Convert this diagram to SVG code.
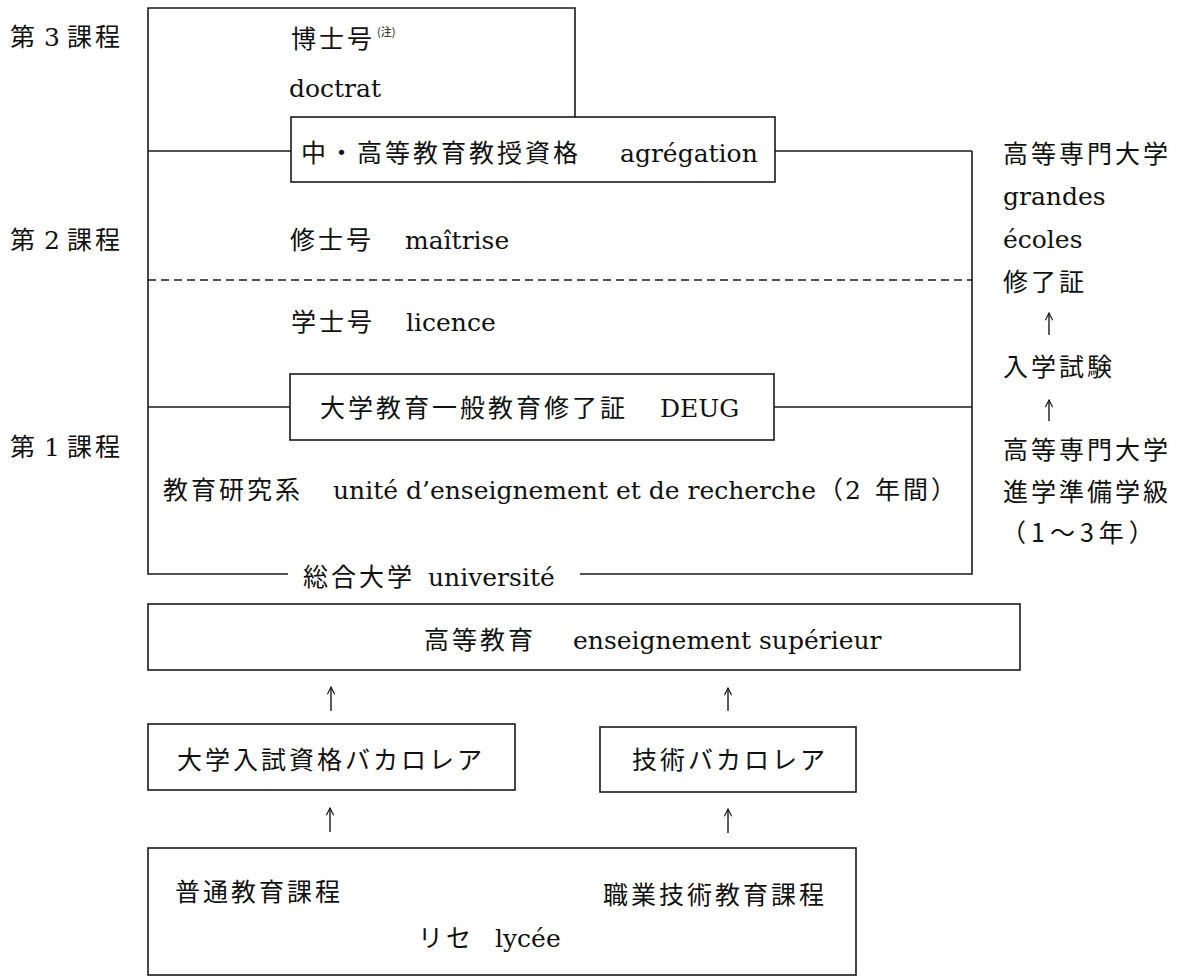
<svg xmlns="http://www.w3.org/2000/svg" width="1184" height="977" viewBox="0 0 1184 977">
<style>
.j{font-family:"Noto Sans CJK JP","Noto Sans CJK SC",sans-serif;font-size:25px;letter-spacing:3px;fill:#111}
.l{font-family:"DejaVu Serif","Liberation Serif",serif;font-size:25px;letter-spacing:0px;fill:#111}
.sup{font-family:"Noto Sans CJK JP",sans-serif;font-size:11px;fill:#111}
.box{fill:none;stroke:#1a1a1a;stroke-width:1.6}
.ln{fill:none;stroke:#1a1a1a;stroke-width:1.6}
.dash{stroke-dasharray:8 5}
.arr{fill:none;stroke:#1a1a1a;stroke-width:1.4}
</style>
<defs>
<marker id="ah" viewBox="0 0 10 10" refX="9" refY="5" markerWidth="9" markerHeight="9" markerUnits="userSpaceOnUse" orient="auto">
<path d="M1,1 L9,5 L1,9" fill="none" stroke="#1a1a1a" stroke-width="1.3"/>
</marker>
</defs>
<rect x="0" y="0" width="1184" height="977" fill="#fff"/>

<g id="labels">
<text class="j" x="10" y="46">第<tspan class="l" x="44">3</tspan><tspan x="67">課程</tspan></text>
<text class="j" x="10" y="249">第<tspan class="l" x="44">2</tspan><tspan x="67">課程</tspan></text>
<text class="j" x="10" y="456">第<tspan class="l" x="44">1</tspan><tspan x="67">課程</tspan></text>
</g>

<g id="university">
<path class="ln" d="M575,117 V8 H148 V574 H288"/>
<path class="ln" d="M580,574 H972 V151"/>
<text class="j" x="303" y="586">総合大学<tspan class="l" x="428">université</tspan></text>
</g>

<g id="doctorat">
<text class="j" x="291" y="48">博士号</text>
<text class="sup" x="377" y="36">(注)</text>
<text class="l" x="289" y="97">doctrat</text>
</g>

<g id="agregation">
<rect class="box" x="291" y="117" width="484" height="65"/>
<text class="j" x="301" y="162">中・高等教育教授資格<tspan class="l" x="620">agrégation</tspan></text>
</g>

<g id="maitrise">
<text class="j" x="290" y="249">修士号<tspan class="l" x="405">maîtrise</tspan></text>
</g>

<g id="licence">
<text class="j" x="291" y="331">学士号<tspan class="l" x="406">licence</tspan></text>
</g>

<g id="deug">
<rect class="box" x="290" y="374" width="484" height="66"/>
<text class="j" x="320" y="417">大学教育一般教育修了証<tspan class="l" x="660">DEUG</tspan></text>
</g>

<g id="uer">
<text class="j" x="163" y="499">教育研究系<tspan class="l" x="333">unité d’enseignement et de recherche</tspan><tspan x="818">（</tspan><tspan class="l" x="845">2</tspan><tspan x="875">年間）</tspan></text>
</g>

<g id="grandes-ecoles">
<text class="j" x="1003" y="163">高等専門大学</text>
<text class="l" x="1003" y="205">grandes</text>
<text class="l" x="1003" y="248">écoles</text>
<text class="j" x="1003" y="291">修了証</text>
</g>

<g id="entrance-exam">
<text class="j" x="1003" y="376">入学試験</text>
</g>

<g id="prep-class">
<text class="j" x="1003" y="459">高等専門大学</text>
<text class="j" x="1003" y="501">進学準備学級</text>
<text class="j" x="1001" y="542" style="letter-spacing:5px">（1～3年）</text>
</g>

<g id="higher-education">
<rect class="box" x="148" y="604" width="872" height="66"/>
<text class="j" x="424" y="649">高等教育<tspan class="l" x="573">enseignement supérieur</tspan></text>
</g>

<g id="baccalaureat">
<rect class="box" x="148" y="724" width="367" height="66"/>
<text class="j" x="177" y="769">大学入試資格バカロレア</text>
</g>

<g id="tech-baccalaureat">
<rect class="box" x="600" y="727" width="256" height="65"/>
<text class="j" x="632" y="769">技術バカロレア</text>
</g>

<g id="lycee">
<rect class="box" x="148" y="848" width="708" height="127"/>
<text class="j" x="175" y="901">普通教育課程</text>
<text class="j" x="603" y="904">職業技術教育課程</text>
<text class="j" x="418" y="947">リセ<tspan class="l" x="495">lycée</tspan></text>
</g>

<g id="connectors">
<path class="ln" d="M148,151 H291"/>
<path class="ln" d="M775,151 H972"/>
<path class="ln" d="M148,407 H290"/>
<path class="ln" d="M774,407 H972"/>
<path class="ln dash" d="M148,280 H972"/>
<path class="arr" d="M1049,335 V313" marker-end="url(#ah)"/>
<path class="arr" d="M1049,421 V400" marker-end="url(#ah)"/>
<path class="arr" d="M331,711 V687" marker-end="url(#ah)"/>
<path class="arr" d="M728,711 V688" marker-end="url(#ah)"/>
<path class="arr" d="M330,832 V808" marker-end="url(#ah)"/>
<path class="arr" d="M728,833 V809" marker-end="url(#ah)"/>
</g>
</svg>
